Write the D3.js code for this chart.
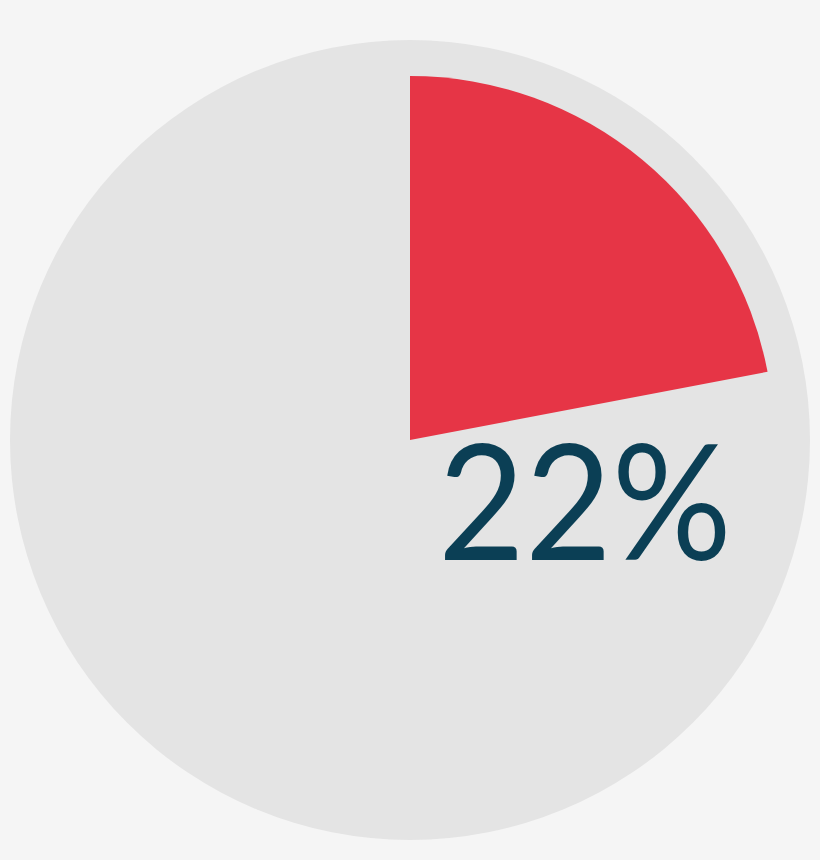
<!DOCTYPE html>
<html>
<head>
<meta charset="utf-8">
<script src="https://cdn.jsdelivr.net/npm/d3@7"></script>
<style>
  body { margin: 0; background: #f5f5f5; }
</style>
</head>
<body>
<div id="chart"></div>
<script>
// share shown in the chart
var labels = ["share", "rest"];
var values = [22, 78];
var colors = ["#e63546", "none"];

var width = 820, height = 860;
var cx = 410, cy = 440;

var svg = d3.select("#chart")
  .append("svg")
    .attr("width", width)
    .attr("height", height);

svg.append("rect")
  .attr("width", width)
  .attr("height", height)
  .attr("fill", "#f5f5f5");

var g = svg.append("g")
  .attr("transform", "translate(" + cx + "," + cy + ")");

// grey disc behind
g.append("circle")
  .attr("r", 400)
  .attr("fill", "#e4e4e4");

var pie = d3.pie().sort(null).value(function (d) { return d; });
var arc = d3.arc().innerRadius(0).outerRadius(364);

g.selectAll("path")
  .data(pie(values))
  .enter()
  .append("path")
    .attr("d", arc)
    .attr("fill", function (d, i) { return colors[i]; });

// big label
var pct = Math.round(values[0] / d3.sum(values) * 100) + "%";
svg.append("text")
  .attr("x", 438)
  .attr("y", 560)
  .attr("font-family", "Lato, 'Open Sans', sans-serif")
  .attr("font-size", 162)
  .attr("textLength", 294)
  .attr("lengthAdjust", "spacingAndGlyphs")
  .attr("fill", "#0b3f55")
  .text(pct);
</script>
</body>
</html>
